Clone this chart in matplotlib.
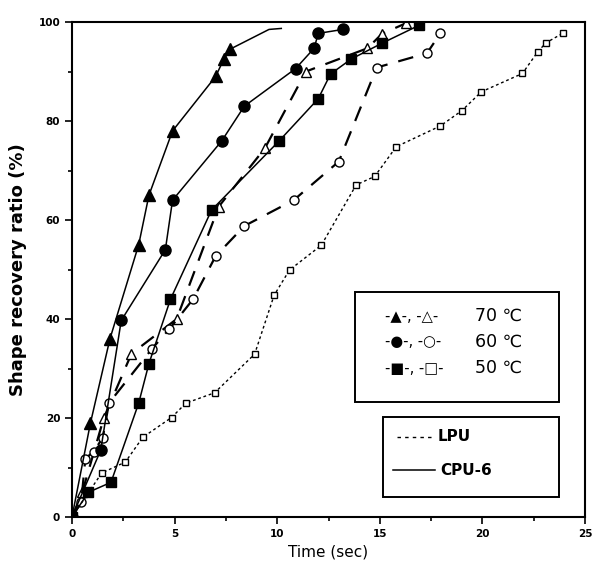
import matplotlib
matplotlib.use("Agg")
import matplotlib.pyplot as plt
from matplotlib.patches import Rectangle
from matplotlib.lines import Line2D

# CPU-6 (solid lines, filled markers)
t_cpu_70 = [0, 0.9, 1.85, 3.25, 3.75, 4.9, 7.0, 7.4, 7.7, 9.6, 10.2]
r_cpu_70 = [0, 19, 36, 55, 65, 78, 89, 92.5, 94.5, 98.5, 98.7]
t_cpu_60 = [0, 1.4, 2.4, 4.55, 4.9, 7.3, 8.4, 10.9, 11.8, 12.0, 13.2]
r_cpu_60 = [0, 13.5, 39.7, 54, 64, 76, 83, 90.6, 94.7, 97.7, 98.5]
t_cpu_50 = [0, 0.8, 1.9, 3.25, 3.75, 4.8, 6.8, 10.1, 12.0, 12.6, 13.6, 15.1, 16.9]
r_cpu_50 = [0, 5, 7, 23, 31, 44, 62, 76, 84.5, 89.5, 92.5, 95.7, 99.3]

# LPU (broken lines, open markers)
t_lpu_70 = [0, 0.5, 1.55, 2.9, 5.1, 7.15, 9.4, 11.4, 14.4, 15.1, 16.3]
r_lpu_70 = [0, 5, 20, 33, 40, 62.7, 74.5, 90, 94.7, 97.6, 99.8]
t_lpu_60 = [0, 0.45, 0.65, 1.05, 1.5, 1.8, 3.9, 4.75, 5.9, 7.0, 8.4, 10.8, 13.0, 14.85, 17.3, 17.95]
r_lpu_60 = [0, 3, 11.8, 13.2, 16, 23, 34, 38, 44, 52.7, 58.8, 64, 71.8, 90.8, 93.7, 97.7]
t_lpu_50 = [0, 1.45, 2.6, 3.45, 4.85, 5.55, 6.95, 8.9, 9.85, 10.6, 12.15, 13.85, 14.75,
            15.8, 17.95, 19.0, 19.95, 21.95, 22.7, 23.1, 23.95]
r_lpu_50 = [0, 8.9, 11.1, 16.1, 20.1, 23, 25.1, 32.9, 44.8, 49.9, 54.9, 67.1, 68.8,
            74.8, 79, 82.1, 85.9, 89.6, 94, 95.8, 97.8]

x_ticks = [0, 5, 10, 15, 20, 25]
y_ticks = [0, 20, 40, 60, 80, 100]
temps = ["70 ℃", "60 ℃", "50 ℃"]
temp_symbols = ["-▲-, -△-", "-●-, -○-", "-■-, -□-"]
materials = ["LPU", "CPU-6"]

fig = plt.figure(figsize=(5.92, 5.76), dpi=100)
ax = fig.add_axes([0.1216, 0.1024, 0.8666, 0.8594])

k = "black"
lw = 1.1
# the 70 ℃ CPU-6 curve runs past the top of the frame without further symbols
ax.plot(t_cpu_70, r_cpu_70, "-", color=k, lw=lw, marker="^", ms=9, mfc=k,
        markevery=list(range(len(t_cpu_70) - 2)), zorder=3)
ax.plot(t_cpu_60, r_cpu_60, "-", color=k, lw=lw, marker="o", ms=8, mfc=k, zorder=3)
ax.plot(t_cpu_50, r_cpu_50, "-", color=k, lw=lw, marker="s", ms=7.5, mfc=k, zorder=3)

ax.plot(t_lpu_70, r_lpu_70, color=k, lw=1.6, dashes=(7, 5), marker="^", ms=7,
        mfc="white", mew=1.0, zorder=2)
ax.plot(t_lpu_60, r_lpu_60, color=k, lw=1.6, dashes=(7, 5), marker="o", ms=6.5,
        mfc="white", mew=1.0, zorder=2)
ax.plot(t_lpu_50, r_lpu_50, color=k, lw=1.0, dashes=(2, 2), marker="s", ms=5,
        mfc="white", mew=1.0, zorder=2)

ax.set_xlim(0, 25)
ax.set_ylim(0, 100)
ax.set_xticks(x_ticks)
ax.set_yticks(y_ticks)
ax.set_xticks([2.5, 7.5, 12.5, 17.5, 22.5], minor=True)
ax.set_yticks([10, 30, 50, 70, 90], minor=True)
ax.tick_params(which="both", direction="out", width=1.2, labelsize=7.5)
ax.tick_params(which="major", length=5)
ax.tick_params(which="minor", length=3)
for lab in ax.get_xticklabels() + ax.get_yticklabels():
    lab.set_fontweight("bold")
for s in ax.spines.values():
    s.set_linewidth(1.5)

ax.set_xlabel("Time (sec)", fontsize=11, labelpad=4)
ax.set_ylabel("Shape recovery ratio (%)", fontsize=13, fontweight="bold", labelpad=8)

# Temperature key
ax.add_patch(Rectangle((0.552, 0.233), 0.397, 0.222, transform=ax.transAxes,
                       fill=False, lw=1.4, ec=k, zorder=5))
row_y = [0.406, 0.354, 0.301]
for sym, lab, yy in zip(temp_symbols, temps, row_y):
    ax.text(0.610, yy, sym, transform=ax.transAxes, fontsize=10.5, va="center",
            ha="left", zorder=6)
    ax.text(0.786, yy, lab, transform=ax.transAxes, fontsize=12.5, va="center",
            ha="left", zorder=6)

# Material key
ax.add_patch(Rectangle((0.606, 0.040), 0.343, 0.163, transform=ax.transAxes,
                       fill=False, lw=1.4, ec=k, zorder=5))
ax.add_line(Line2D([0.633, 0.704], [0.162, 0.162], transform=ax.transAxes,
                   color=k, lw=1.0, dashes=(2.5, 3), zorder=6))
ax.add_line(Line2D([0.626, 0.708], [0.094, 0.094], transform=ax.transAxes,
                   color=k, lw=1.1, zorder=6))
ax.text(0.712, 0.162, materials[0], transform=ax.transAxes, fontsize=11,
        fontweight="bold", va="center", ha="left", zorder=6)
ax.text(0.718, 0.094, materials[1], transform=ax.transAxes, fontsize=11,
        fontweight="bold", va="center", ha="left", zorder=6)

fig.savefig("out.png", dpi=100)
